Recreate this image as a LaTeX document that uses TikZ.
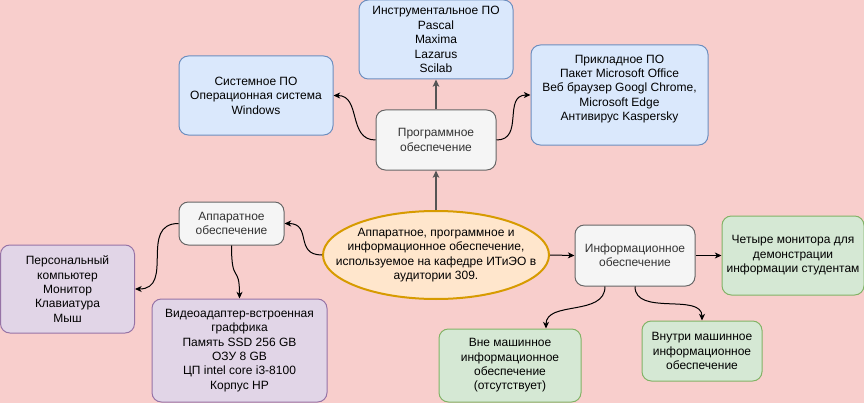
\documentclass[tikz,border=0pt]{standalone}
\usepackage{fontspec}
\setmainfont{Liberation Sans}
\usetikzlibrary{arrows.meta,calc,shapes.geometric}
\definecolor{bgpink}{HTML}{F8CECC}
\definecolor{bluefill}{HTML}{DAE8FC}
\definecolor{bluestroke}{HTML}{6C8EBF}
\definecolor{grayfill}{HTML}{F5F5F5}
\definecolor{graystroke}{HTML}{666666}
\definecolor{graytext}{HTML}{333333}
\definecolor{purplefill}{HTML}{E1D5E7}
\definecolor{purplestroke}{HTML}{9673A6}
\definecolor{greenfill}{HTML}{D5E8D4}
\definecolor{greenstroke}{HTML}{82B366}
\definecolor{orangefill}{HTML}{FFE6CC}
\definecolor{orangestroke}{HTML}{D79B00}
\definecolor{darkline}{HTML}{555555}
\tikzset{
  box/.style={rounded corners=7pt, line width=0.75pt, align=center, inner sep=2pt,
    font=\fontsize{9pt}{10.8pt}\selectfont},
  bluebox/.style={box, fill=bluefill, draw=bluestroke},
  graybox/.style={box, fill=grayfill, draw=graystroke, text=graytext},
  purplebox/.style={box, fill=purplefill, draw=purplestroke},
  greenbox/.style={box, fill=greenfill, draw=greenstroke},
  mainell/.style={ellipse, fill=orangefill, draw=orangestroke, line width=1.5pt, align=center,
    inner xsep=-30pt, inner ysep=-12pt, font=\fontsize{9pt}{10.8pt}\selectfont},
  conn/.style={line width=0.75pt, black, -{Stealth[length=5pt,width=4.5pt,inset=1.5pt]}},
  thickconn/.style={line width=1.3pt, darkline, -{Stealth[length=5.5pt,width=5pt,inset=1.5pt]}}
}
\begin{document}
\begin{tikzpicture}[x=0.75pt,y=-0.75pt]
\fill[bgpink] (0,0) rectangle (864,403);
\useasboundingbox (0,0) rectangle (864,403);

\node[bluebox, minimum width=115.5pt, minimum height=59.25pt] (instr) at (436,39.5)
  {Инструментальное ПО\\Pascal\\Maxima\\Lazarus\\Scilab};
\node[bluebox, minimum width=115.5pt, minimum height=59.25pt] (sys) at (256,95.5)
  {Системное ПО\\Операционная система\\Windows};
\node[graybox, minimum width=90pt, minimum height=45pt] (prog) at (436,140)
  {Программное\\обеспечение};
\node[bluebox, minimum width=132.75pt, minimum height=75pt] (appl) at (619.5,95)
  {Прикладное ПО\\Пакет Microsoft Office\\Веб браузер Googl Chrome,\\Microsoft Edge\\Антивирус Kaspersky\\\mbox{}};
\node[graybox, minimum width=78.75pt, minimum height=32.25pt] (hw) at (231.5,223.5)
  {Аппаратное\\обеспечение};
\node[mainell, minimum width=169.5pt, minimum height=66pt] (main) at (436,255)
  {Аппаратное, программное и\\информационное обеспечение,\\используемое на кафедре ИТиЭО в\\аудитории 309.};
\node[purplebox, minimum width=100.5pt, minimum height=66pt] (pc) at (67.5,289)
  {Персональный\\компьютер\\Монитор\\Клавиатура\\Мыш};
\node[purplebox, minimum width=131.25pt, minimum height=77.25pt] (video) at (239.5,350.5)
  {Видеоадаптер-встроенная\\граффика\\Память SSD 256 GB\\ОЗУ 8 GB\\ЦП intel core i3-8100\\Корпус HP};
\node[graybox, minimum width=90pt, minimum height=45.75pt] (info) at (635,255.5)
  {Информационное\\обеспечение};
\node[greenbox, minimum width=106.5pt, minimum height=59.25pt] (four) at (793,255.5)
  {Четыре монитора для\\демонстрации\\информации студентам};
\node[greenbox, minimum width=106.5pt, minimum height=54.75pt] (outside) at (510,365.5)
  {Вне машинное\\информационное\\обеспечение\\(отсутствует)};
\node[greenbox, minimum width=90pt, minimum height=45pt] (inside) at (702,351)
  {Внутри машинное\\информационное\\обеспечение};

\coordinate (outtop) at ($(outside.north)+(36,0)$);
\coordinate (infob1) at ($(info.south)+(-30,0)$);

\draw[thickconn] (main.north) -- (prog.south);
\draw[thickconn] (prog.north) -- (instr.south);
\draw[conn] (prog.west) .. controls +(-28,0) and +(28,0) .. (sys.east);
\draw[conn] (prog.east) .. controls +(28,0) and +(-28,0) .. (appl.west);
\draw[conn] (main.west) .. controls +(-28,0) and +(28,0) .. (hw.east);
\draw[conn] (hw.west) .. controls +(-40,0) and +(40,0) .. (pc.east);
\draw[conn] (hw.south) .. controls +(0,40) and +(0,-35) .. (video.north);
\draw[conn] (main.east) -- (info.west);
\draw[conn] (info.east) -- (four.west);
\draw[conn] (infob1) .. controls +(0,30) and +(0,-28) .. (outtop);
\draw[conn] (info.south) .. controls +(0,30) and +(0,-28) .. (inside.north);
\end{tikzpicture}
\end{document}
